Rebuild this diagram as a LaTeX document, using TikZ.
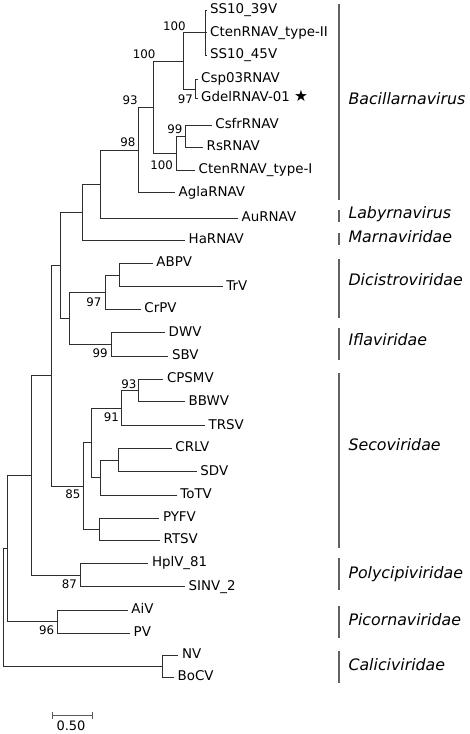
\documentclass[tikz,border=0pt]{standalone}
\usepackage{fontspec}
\setmainfont{DejaVu Sans}
\begin{document}
\begin{tikzpicture}[x=1pt,y=-1pt,
  br/.style={draw=black!82, line width=0.9pt},
  leaf/.style={anchor=west, inner xsep=3.5pt, inner ysep=0pt, text height=0.68em, text depth=0pt, font=\fontsize{13.4}{16}\selectfont},
  bs/.style={inner sep=0pt, font=\fontsize{11.8}{14}\selectfont},
  clbar/.style={draw=black!62, line width=1.3pt},
  clade/.style={anchor=west, inner sep=0pt, text height=0.68em, text depth=0pt, font=\fontsize{15.8}{18}\selectfont\itshape},
  scb/.style={draw=black!65, line width=1pt}]
\useasboundingbox (0,0) rectangle (470,734);
% leaves
\node[leaf] (s39) at (206.5,10.5) {SS10\_39V};
\node[leaf] (ct2) at (206.5,32.7) {CtenRNAV\_type-II};
\node[leaf] (s45) at (206.5,55) {SS10\_45V};
\node[leaf] (csp) at (197.5,79.5) {Csp03RNAV};
\node[leaf] (gdel) at (197.5,98.5) {GdelRNAV-01 {\fontsize{15.5}{16}\selectfont ★}};
\node[leaf] (csfr) at (211.7,125) {CsfrRNAV};
\node[leaf] (rs) at (203,147) {RsRNAV};
\node[leaf] (ct1) at (195,170.5) {CtenRNAV\_type-I};
\node[leaf] (agla) at (175,192.8) {AglaRNAV};
\node[leaf] (au) at (238,218) {AuRNAV};
\node[leaf] (ha) at (185,240) {HaRNAV};
\node[leaf] (abpv) at (152.7,263.3) {ABPV};
\node[leaf] (trv) at (222.7,286.7) {TrV};
\node[leaf] (crpv) at (140.7,309.3) {CrPV};
\node[leaf] (dwv) at (165,332.7) {DWV};
\node[leaf] (sbv) at (168.3,356) {SBV};
\node[leaf] (cpsmv) at (163.3,379) {CPSMV};
\node[leaf] (bbwv) at (185,401.7) {BBWV};
\node[leaf] (trsv) at (205,425.7) {TRSV};
\node[leaf] (crlv) at (171.7,448.3) {CRLV};
\node[leaf] (sdv) at (196.7,471.7) {SDV};
\node[leaf] (totv) at (176.7,495) {ToTV};
\node[leaf] (pyfv) at (159.3,518.3) {PYFV};
\node[leaf] (rtsv) at (160,540) {RTSV};
\node[leaf] (hplv) at (148.3,563.3) {HplV\_81};
\node[leaf] (sinv) at (185,586.7) {SINV\_2};
\node[leaf] (aiv) at (127.7,610) {AiV};
\node[leaf] (pv) at (130,633.3) {PV};
\node[leaf] (nv) at (178.3,655) {NV};
\node[leaf] (bocv) at (174,677) {BoCV};
% internal nodes
\coordinate (nss) at (205,32.7);
\coordinate (ncg) at (195,89);
\coordinate (n100a) at (183,61);
\coordinate (ncr) at (185,136);
\coordinate (n100b) at (176,153.3);
\coordinate (n100c) at (153,107.1);
\coordinate (n93) at (138.5,150);
\coordinate (n98) at (100.7,184);
\coordinate (nh) at (82.7,212);
\coordinate (nabtr) at (119.3,275);
\coordinate (n97) at (105.3,292.2);
\coordinate (n99) at (111,344.3);
\coordinate (ndi) at (69.3,318.3);
\coordinate (nup) at (60,265.2);
\coordinate (n93s) at (138.7,390.3);
\coordinate (n91) at (121,408);
\coordinate (ncs) at (118.3,460);
\coordinate (ncst) at (100,477.5);
\coordinate (ns1) at (91,442.7);
\coordinate (npr) at (99.3,529.2);
\coordinate (n85) at (83.3,486);
\coordinate (nmid) at (51.7,375.6);
\coordinate (n87) at (80,575);
\coordinate (nleft) at (31.7,475.3);
\coordinate (n96) at (57.3,621.7);
\coordinate (nl2) at (7.3,548.5);
\coordinate (nca) at (162.3,666);
\coordinate (root) at (3.3,607.3);
% branches
\draw[br] (nss) |- (s39.west) (nss) |- (ct2.west) (nss) |- (s45.west);
\draw[br] (ncg) |- (csp.west) (ncg) |- (gdel.west);
\draw[br] (n100a) |- (nss) (n100a) |- (ncg);
\draw[br] (ncr) |- (csfr.west) (ncr) |- (rs.west);
\draw[br] (n100b) |- (ncr) (n100b) |- (ct1.west);
\draw[br] (n100c) |- (n100a) (n100c) |- (n100b);
\draw[br] (n93) |- (n100c) (n93) |- (agla.west);
\draw[br] (n98) |- (n93) (n98) |- (au.west);
\draw[br] (nh) |- (n98) (nh) |- (ha.west);
\draw[br] (nabtr) |- (abpv.west) (nabtr) |- (trv.west);
\draw[br] (n97) |- (nabtr) (n97) |- (crpv.west);
\draw[br] (n99) |- (dwv.west) (n99) |- (sbv.west);
\draw[br] (ndi) |- (n97) (ndi) |- (n99);
\draw[br] (nup) |- (nh) (nup) |- (ndi);
\draw[br] (n93s) |- (cpsmv.west) (n93s) |- (bbwv.west);
\draw[br] (n91) |- (n93s) (n91) |- (trsv.west);
\draw[br] (ncs) |- (crlv.west) (ncs) |- (sdv.west);
\draw[br] (ncst) |- (ncs) (ncst) |- (totv.west);
\draw[br] (ns1) |- (n91) (ns1) |- (ncst);
\draw[br] (npr) |- (pyfv.west) (npr) |- (rtsv.west);
\draw[br] (n85) |- (ns1) (n85) |- (npr);
\draw[br] (nmid) |- (nup) (nmid) |- (n85);
\draw[br] (n87) |- (hplv.west) (n87) |- (sinv.west);
\draw[br] (nleft) |- (nmid) (nleft) |- (n87);
\draw[br] (n96) |- (aiv.west) (n96) |- (pv.west);
\draw[br] (nl2) |- (nleft) (nl2) |- (n96);
\draw[br] (nca) |- (nv.west) (nca) |- (bocv.west);
\draw[br] (root) |- (nl2) (root) |- (nca);
% bootstrap values
\node[bs] (b1) at (174.3,25.8) {100};
\node[bs] (b2) at (144.2,54.7) {100};
\node[bs] (b3) at (130.2,100) {93};
\node[bs] (b4) at (185.5,99.5) {97};
\node[bs] (b5) at (175,129) {99};
\node[bs] (b6) at (161.7,165) {100};
\node[bs] (b7) at (127.8,142) {98};
\node[bs] (b8) at (94,302) {97};
\node[bs] (b9) at (100.2,353.3) {99};
\node[bs] (b10) at (128.8,384) {93};
\node[bs] (b11) at (111.3,417.5) {91};
\node[bs] (b12) at (73,494) {85};
\node[bs] (b13) at (69.5,584) {87};
\node[bs] (b14) at (46.7,630) {96};
% clade bars and names
\draw[clbar] (339,4) -- (339,200);
\node[clade] (c1) at (348.3,101) {Bacillarnavirus};
\draw[clbar] (339,210) -- (339,222);
\node[clade] (c2) at (348.3,215.5) {Labyrnavirus};
\draw[clbar] (339,233) -- (339,245);
\node[clade] (c3) at (348.3,239) {Marnaviridae};
\draw[clbar] (339,259) -- (339,318);
\node[clade] (c4) at (348.3,282) {Dicistroviridae};
\draw[clbar] (339,328) -- (339,360);
\node[clade] (c5) at (348.3,342) {Iflaviridae};
\draw[clbar] (339,373) -- (339,547.7);
\node[clade] (c6) at (348.3,446.7) {Secoviridae};
\draw[clbar] (339,558) -- (339,590);
\node[clade] (c7) at (348.3,575) {Polycipiviridae};
\draw[clbar] (339,605.7) -- (339,637.7);
\node[clade] (c8) at (348.3,622) {Picornaviridae};
\draw[clbar] (339,651) -- (339,683.3);
\node[clade] (c9) at (348.3,667) {Caliciviridae};
% scale bar
\coordinate (sa) at (52.3,715.5);
\coordinate (sb) at (92.5,715.5);
\draw[scb] (sa) -- (sb);
\draw[scb] ([yshift=-3.5pt]sa) -- ([yshift=3.5pt]sa);
\draw[scb] ([yshift=-3.5pt]sb) -- ([yshift=3.5pt]sb);
\node[inner sep=0pt, font=\fontsize{13}{15}\selectfont] (scl) at (71,725.5) {0.50};
\end{tikzpicture}
\end{document}
